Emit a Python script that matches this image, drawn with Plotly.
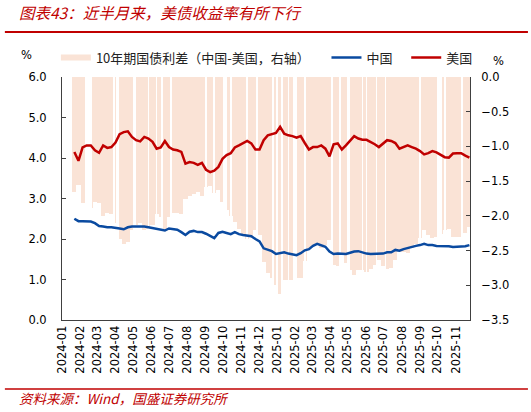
import plotly.graph_objects as go
import pandas as pd

# weekly readings, first week 2024-01-22
week0 = '2024-01-22'

us = [4.15, 3.93, 4.26, 4.31, 4.31, 4.19, 4.13, 4.31, 4.25, 4.27,
      4.38, 4.59, 4.64, 4.66, 4.52, 4.44, 4.41, 4.52, 4.48, 4.40,
      4.23, 4.26, 4.42, 4.27, 4.21, 4.19, 4.15, 3.86, 3.90, 3.88,
      3.83, 3.88, 3.71, 3.65, 3.69, 3.78, 3.98, 4.07, 4.12, 4.26,
      4.31, 4.37, 4.42, 4.36, 4.21, 4.21, 4.44, 4.56, 4.59, 4.62,
      4.77, 4.60, 4.56, 4.54, 4.50, 4.54, 4.37, 4.21, 4.27, 4.27,
      4.31, 4.23, 4.04, 4.34, 4.36, 4.21, 4.31, 4.44, 4.54, 4.48,
      4.45, 4.45, 4.40, 4.34, 4.27, 4.36, 4.44, 4.42, 4.37, 4.23,
      4.27, 4.31, 4.27, 4.23, 4.17, 4.09, 4.12, 4.17, 4.14, 4.09,
      4.02, 4.01, 4.11, 4.12, 4.12, 4.06, 4.01]

cn = [2.50, 2.44, 2.44, 2.44, 2.43, 2.39, 2.32, 2.31, 2.29, 2.29,
      2.28, 2.26, 2.24, 2.29, 2.31, 2.31, 2.31, 2.31, 2.29, 2.27,
      2.26, 2.24, 2.21, 2.26, 2.25, 2.23, 2.17, 2.10, 2.18, 2.20,
      2.17, 2.17, 2.13, 2.08, 2.02, 2.15, 2.18, 2.15, 2.12, 2.17,
      2.12, 2.10, 2.09, 2.07, 2.00, 1.94, 1.77, 1.73, 1.70, 1.63,
      1.65, 1.67, 1.64, 1.62, 1.60, 1.65, 1.72, 1.75, 1.83, 1.88,
      1.84, 1.81, 1.69, 1.63, 1.64, 1.64, 1.63, 1.66, 1.69, 1.70,
      1.67, 1.64, 1.63, 1.63, 1.63, 1.64, 1.67, 1.67, 1.73, 1.71,
      1.75, 1.78, 1.80, 1.83, 1.85, 1.88, 1.85, 1.85, 1.83, 1.83,
      1.82, 1.82, 1.80, 1.81, 1.81, 1.82, 1.85]

spread = [-1.65, -1.55, -1.82, -1.87, -1.88, -1.80, -1.81, -2.00, -1.96, -1.98,
          -2.10, -2.33, -2.40, -2.37, -2.21, -2.13, -2.10, -2.21, -2.19, -2.13,
          -1.97, -2.02, -2.21, -2.01, -1.96, -1.96, -1.98, -1.76, -1.72, -1.68,
          -1.66, -1.71, -1.58, -1.57, -1.67, -1.63, -1.80, -1.92, -2.00, -2.09,
          -2.19, -2.27, -2.33, -2.29, -2.21, -2.27, -2.67, -2.83, -2.89, -2.99,
          -3.12, -2.93, -2.92, -2.92, -2.90, -2.89, -2.65, -2.46, -2.44, -2.39,
          -2.47, -2.42, -2.35, -2.71, -2.72, -2.57, -2.68, -2.78, -2.85, -2.78,
          -2.78, -2.81, -2.77, -2.71, -2.64, -2.72, -2.77, -2.75, -2.64, -2.52,
          -2.52, -2.53, -2.47, -2.40, -2.32, -2.21, -2.27, -2.32, -2.31, -2.26,
          -2.20, -2.19, -2.31, -2.31, -2.31, -2.24, -2.16]

# holidays (CN or US market closed) -> no spread value
gap_start = ['2024-02-09', '2024-02-19', '2024-03-29', '2024-04-04', '2024-05-01',
             '2024-05-27', '2024-06-10', '2024-06-19', '2024-07-04', '2024-09-02',
             '2024-09-16', '2024-10-01', '2024-10-14', '2024-11-11', '2024-11-28',
             '2024-12-25', '2025-01-01', '2025-01-09', '2025-01-20', '2025-01-28',
             '2025-02-17', '2025-04-04', '2025-04-18', '2025-05-01', '2025-05-26',
             '2025-06-02', '2025-06-19', '2025-07-04', '2025-09-01', '2025-10-01',
             '2025-10-13', '2025-11-11']
gap_end = ['2024-02-18', '2024-02-19', '2024-03-29', '2024-04-06', '2024-05-05',
           '2024-05-27', '2024-06-10', '2024-06-19', '2024-07-04', '2024-09-02',
           '2024-09-17', '2024-10-07', '2024-10-14', '2024-11-11', '2024-11-28',
           '2024-12-25', '2025-01-01', '2025-01-09', '2025-01-20', '2025-02-04',
           '2025-02-17', '2025-04-04', '2025-04-18', '2025-05-05', '2025-05-26',
           '2025-06-02', '2025-06-19', '2025-07-04', '2025-09-01', '2025-10-08',
           '2025-10-13', '2025-11-11']

RED = '#C00000'
BLUE = '#0A4AA0'
PEACH = '#FAE3D6'
DAY = 86400000
NB = '\u00a0'

dates = pd.date_range(week0, periods=len(us), freq='7D')
gs = pd.to_datetime(gap_start)
ge = pd.to_datetime(gap_end)
gap_mid = gs + (ge - gs) / 2
gap_w = [((e - s).days + 1.0) * DAY for s, e in zip(gs, ge)]

fig = go.Figure()
fig.add_trace(go.Bar(x=dates, y=spread, width=7 * DAY, marker=dict(color=PEACH, line_width=0),
                     yaxis='y', showlegend=False, hoverinfo='skip'))
fig.add_trace(go.Bar(x=gap_mid, y=[-3.5] * len(gs), width=gap_w, marker=dict(color='white', line_width=0),
                     yaxis='y', showlegend=False, hoverinfo='skip'))
# legend entry for the spread bars
fig.add_trace(go.Scatter(x=[None], y=[None], mode='lines', line=dict(color=PEACH, width=6),
                         name='10年期国债利差（中国-美国，右轴）' + NB * 4, yaxis='y2'))
fig.add_trace(go.Scatter(x=dates, y=cn, mode='lines', name='中国' + NB * 3, line=dict(color=BLUE, width=2.5),
                         yaxis='y2'))
fig.add_trace(go.Scatter(x=dates, y=us, mode='lines', name='美国', line=dict(color=RED, width=2.5), yaxis='y2'))

axis_font = dict(family='DejaVu Sans, Noto Sans CJK SC', size=11.5, color='black')
fig.update_layout(
    width=531, height=412,
    margin=dict(l=62, r=61, t=77, b=92),
    plot_bgcolor='white', paper_bgcolor='white',
    barmode='overlay', bargap=0,
    font=dict(family='Noto Sans CJK SC', size=12, color='#222'),
    xaxis=dict(type='date', range=['2024-01-01', '2025-11-25'], dtick='M1', tick0='2024-01-01',
               tickformat='%Y-%m', tickangle=-90, showgrid=False, zeroline=False,
               showline=True, linecolor='#404040', linewidth=1, ticks='', tickfont=axis_font),
    yaxis=dict(side='right', range=[-3.5, 0], dtick=0.5, tickformat='.1f', showgrid=False, zeroline=False,
               showline=True, linecolor='#404040', linewidth=1, ticks='inside', ticklen=4,
               tickcolor='#404040', tickfont=axis_font, ticklabelstandoff=8),
    yaxis2=dict(overlaying='y', side='left', range=[0, 6], dtick=1, tickformat='.1f', showgrid=False,
                zeroline=False, showline=True, linecolor='#404040', linewidth=1, ticks='inside', ticklen=4,
                tickcolor='#404040', tickfont=axis_font, ticklabelstandoff=12),
    legend=dict(orientation='h', x=-0.015, y=1.08, xanchor='left', yanchor='middle',
                font=dict(family='Noto Sans CJK SC', size=13, color='#222'), itemwidth=30,
                bgcolor='rgba(0,0,0,0)'),
    showlegend=True,
)

fig.add_annotation(text='图表43：近半月来，美债收益率有所下行', xref='paper', yref='paper',
                   x=-0.110, y=1.267, xanchor='left', yanchor='middle', showarrow=False,
                   font=dict(family='Noto Sans CJK SC', size=15.5, color=RED, style='italic'))
fig.add_annotation(text='资料来源：Wind，国盛证券研究所', xref='paper', yref='paper',
                   x=-0.110, y=-0.321, xanchor='left', yanchor='middle', showarrow=False,
                   font=dict(family='Noto Sans CJK SC', size=13.5, color=RED, style='italic'))
fig.add_annotation(text='%', xref='paper', yref='paper', x=-0.088, y=1.09, xanchor='center',
                   yanchor='middle', showarrow=False, font=axis_font)
fig.add_annotation(text='%', xref='paper', yref='paper', x=1.069, y=1.066, xanchor='center',
                   yanchor='middle', showarrow=False, font=axis_font)
fig.add_shape(type='line', xref='paper', yref='paper', x0=-0.14, x1=1.142, y0=1.185, y1=1.185,
              line=dict(color=RED, width=2))
fig.add_shape(type='line', xref='paper', yref='paper', x0=-0.14, x1=1.142, y0=-0.284, y1=-0.284,
              line=dict(color=RED, width=1.5))

# page body has a default 8px margin; drop it so the figure sits at the window corner
fig.write_html("out.html", config={'displayModeBar': False},
               post_script="document.body.style.margin='0';")
